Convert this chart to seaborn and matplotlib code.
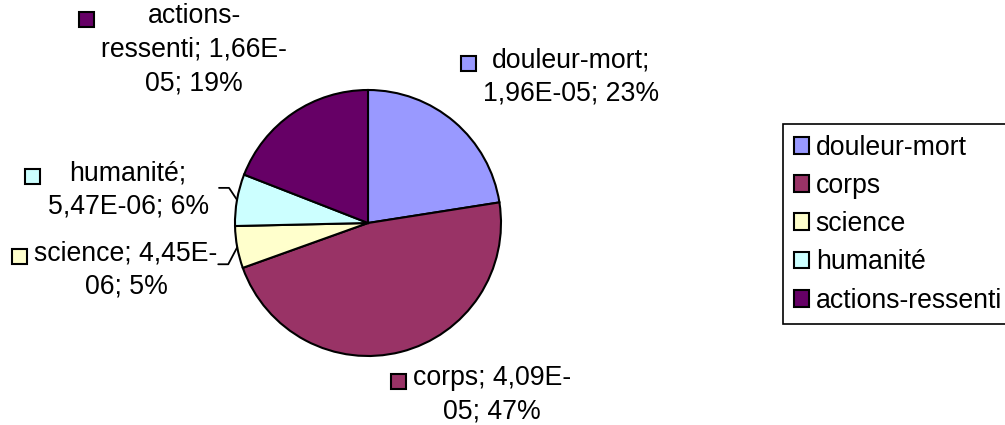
import re
import numpy as np
import matplotlib
matplotlib.use("Agg")
import matplotlib.pyplot as plt
import seaborn as sns
from matplotlib.patches import Patch, Rectangle
from matplotlib.offsetbox import AnnotationBbox, DrawingArea, TextArea, HPacker, VPacker

# Data
categories = ["douleur-mort", "corps", "science", "humanité", "actions-ressenti"]
values = [1.96e-05, 4.09e-05, 4.45e-06, 5.47e-06, 1.66e-05]
percents = [23, 47, 5, 6, 19]
colors = ["#9999FF", "#993366", "#FFFFCC", "#CCFFFF", "#660066"]

# label layout (Excel style wrapping width in chars, block centre in pixels)
wrap_widths = [14, 14, 16, 12, 16]
label_centres = [(560, 77), (481, 395), (115, 270), (117, 190), (183, 50)]

W, H = 1005, 425
CX, CY, R = 368, 223, 133  # pie centre / radius in pixels (from top)
FS = 19.2

sns.set_theme(style="white")
plt.rcParams["font.family"] = ["Liberation Sans", "DejaVu Sans"]
plt.rcParams["text.color"] = "black"
plt.rcParams["legend.labelcolor"] = "black"

fig = plt.figure(figsize=(W / 100, H / 100), dpi=100)
ax = fig.add_axes([0, 0, 1, 1])

wedges, _ = ax.pie(values, colors=colors, startangle=90, counterclock=False,
                   wedgeprops=dict(edgecolor="black", linewidth=1.5))
ax.set_xlim(-CX / R, (W - CX) / R)
ax.set_ylim(-(H - CY) / R, CY / R)
ax.set_aspect("equal")
ax.axis("off")


def fmt(v):
    return f"{v:.2E}".replace(".", ",")


def wrap(text, width):
    tokens = re.findall(r"[^\s-]+(?:-|\s+)?", text)
    lines, cur = [], ""
    for t in tokens:
        if cur and len((cur + t).rstrip()) > width:
            lines.append(cur.rstrip())
            cur = t
        else:
            cur += t
    lines.append(cur.rstrip())
    return lines


def to_data(px, py):
    return (px - CX) / R, (CY - py) / R


for cat, v, p, col, ww, (px, py) in zip(categories, values, percents, colors,
                                        wrap_widths, label_centres):
    lines = wrap(f"{cat}; {fmt(v)}; {p}%", ww)
    texts = [TextArea(l, textprops=dict(fontsize=FS, color="black")) for l in lines]
    col_box = VPacker(children=texts, align="center", pad=0, sep=5.5)
    da = DrawingArea(16, 21.6, 0, 0)
    da.add_artist(Rectangle((0, 4.5), 10.8, 10.8, facecolor=col,
                            edgecolor="black", linewidth=1.5))
    box = HPacker(children=[da, col_box], align="top", pad=0, sep=0)
    ab = AnnotationBbox(box, to_data(px, py), xycoords="data", frameon=False,
                        box_alignment=(0.5, 0.5), pad=0)
    ax.add_artist(ab)

# leader lines for the two small slices
leaders = {3: (-8, 12), 2: (-9, -17)}
for i, (dx, dy) in leaders.items():
    w = wedges[i]
    ang = np.deg2rad((w.theta1 + w.theta2) / 2)
    x0, y0 = np.cos(ang), np.sin(ang)
    x1, y1 = x0 + dx / R, y0 + dy / R
    x2 = x1 - 10 / R
    ax.plot([x0, x1, x2], [y0, y1, y1], color="black", linewidth=1.3,
            clip_on=False)

handles = [Patch(facecolor=c, edgecolor="black", linewidth=1.5) for c in colors]
leg = fig.legend(handles, categories, loc="upper left",
                 bbox_to_anchor=(783 / W, 1 - 124 / H), borderaxespad=0,
                 fontsize=FS, frameon=True, fancybox=False, framealpha=1,
                 handlelength=0.58, handleheight=0.58, handletextpad=0.25,
                 labelspacing=0.46, borderpad=0.4, labelcolor="black")
leg.get_frame().set_edgecolor("black")
leg.get_frame().set_linewidth(1.2)

fig.savefig("out.png", dpi=100, facecolor="white")
